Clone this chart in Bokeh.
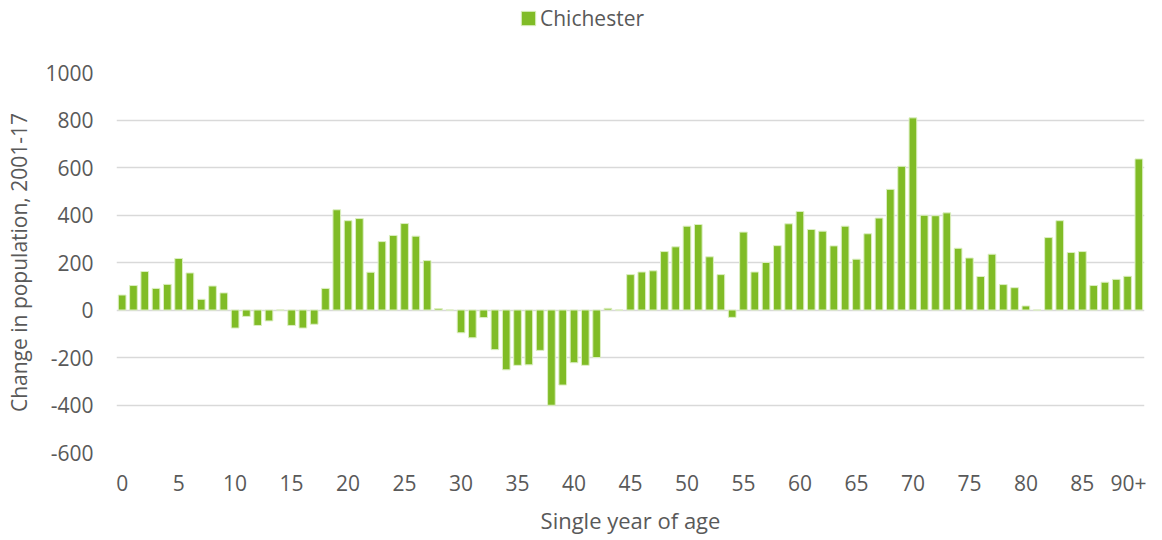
from bokeh.plotting import figure
from bokeh.layouts import column
from bokeh.models import ColumnDataSource, Range1d, FixedTicker, Legend, LegendItem
from bokeh.embed import file_html
from bokeh.resources import INLINE

# Data
age_labels = [str(i) for i in range(90)] + ["90+"]
change = [
    63, 103, 162, 91, 108, 217, 156, 45, 101, 72,
    -76, -27, -65, -46, 0, -65, -76, -60, 91, 422,
    376, 385, 159, 288, 314, 364, 311, 208, 6, 0,
    -96, -117, -32, -167, -252, -233, -231, -170, -401, -316,
    -222, -233, -200, 7, 0, 149, 160, 165, 246, 266,
    353, 360, 224, 149, -31, 328, 160, 200, 271, 363,
    415, 339, 332, 270, 353, 214, 321, 387, 508, 605,
    809, 399, 397, 409, 260, 219, 141, 235, 107, 94,
    17, 0, 305, 376, 242, 246, 103, 117, 129, 142,
    636,
]
series_name = "Chichester"
y_ticks = [-600, -400, -200, 0, 200, 400, 600, 800, 1000]
y_tick_labels = ["-600", "-400", "-200", "0", "200", "400", "600", "800", "1000"]
x_tick_positions = list(range(0, 91, 5))

FONT = "Open Sans"
TXT = "#595959"
GREEN = "#80BC26"
EDGE = "#DCEFC2"
W = 1146
LEFT = 116

src = ColumnDataSource(dict(x=list(range(len(change))), top=change, label=age_labels))

# Header strip holding the legend (its view range shows none of the bars)
HDR_H = 40
hdr = figure(width=W, height=HDR_H, output_backend="svg", toolbar_location=None,
             x_axis_type=None, y_axis_type=None,
             x_range=Range1d(1000, 1001), y_range=Range1d(5000, 5001),
             min_border=0, min_border_left=LEFT, min_border_right=2)
hdr.outline_line_color = None
hdr.xgrid.grid_line_color = None
hdr.ygrid.grid_line_color = None
key = hdr.vbar(x="x", top="top", bottom=0, width=0.68, source=src,
               fill_color=GREEN, line_color=EDGE, line_width=1)
legend = Legend(items=[LegendItem(label=series_name, renderers=[key])],
                location=(519 - LEFT, 8), orientation="horizontal",
                label_text_font=FONT, label_text_font_size="21px", label_text_color=TXT,
                glyph_width=18, glyph_height=18, label_standoff=3,
                padding=0, margin=0, border_line_color=None, background_fill_alpha=0)
hdr.add_layout(legend, "center")

p = figure(width=W, height=497, output_backend="svg", toolbar_location=None,
           x_range=Range1d(-0.5, len(change) - 0.5), y_range=Range1d(-600, 1000),
           min_border_left=LEFT, min_border_right=2, min_border_top=72 - HDR_H,
           min_border_bottom=80)
p.outline_line_color = None
p.background_fill_color = "white"

p.vbar(x="x", top="top", bottom=0, width=0.68, source=src,
       fill_color=GREEN, line_color=EDGE, line_width=1)

p.xgrid.grid_line_color = None
p.ygrid.grid_line_color = "#D9D9D9"
p.ygrid.grid_line_width = 1.5
p.ygrid.ticker = FixedTicker(ticks=y_ticks)

p.yaxis.ticker = FixedTicker(ticks=y_ticks)
p.yaxis.major_label_overrides = dict(zip(y_ticks, y_tick_labels))
p.xaxis.ticker = FixedTicker(ticks=x_tick_positions)
p.xaxis.major_label_overrides = {90: "90+"}

for ax in (p.xaxis, p.yaxis):
    ax.axis_line_color = None
    ax.major_tick_line_color = None
    ax.minor_tick_line_color = None
    ax.major_label_text_font = FONT
    ax.major_label_text_font_size = "21px"
    ax.major_label_text_color = TXT
    ax.axis_label_text_font = FONT
    ax.axis_label_text_color = TXT
    ax.axis_label_text_font_style = "normal"

p.xaxis.axis_label_text_font_size = "22px"
p.yaxis.axis_label_text_font_size = "21px"
p.xaxis.axis_label = "Single year of age"
p.yaxis.axis_label = "Change in population, 2001-17"
p.xaxis.major_label_standoff = 16
p.yaxis.major_label_standoff = 17
p.xaxis.axis_label_standoff = 11
p.yaxis.axis_label_standoff = 9

layout = column(hdr, p, spacing=0)
open("out.html", "w").write(file_html(layout, INLINE))
